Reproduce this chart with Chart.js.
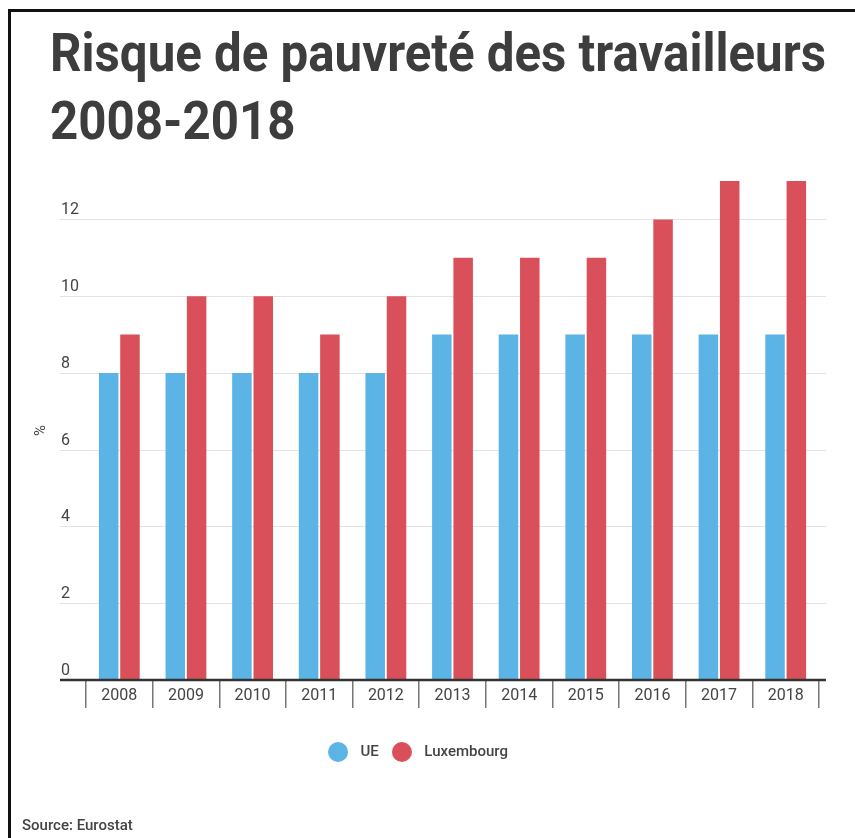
<!DOCTYPE html>
<html><head><meta charset="utf-8">
<script src="https://cdn.jsdelivr.net/npm/chart.js@4"></script>
<style>
html,body{margin:0;padding:0;background:#fff;width:855px;height:838px;overflow:hidden;font-family:Roboto,sans-serif;}
#frame{position:absolute;left:8px;top:9px;width:860px;height:840px;border-top:3px solid #111;border-left:3px solid #111;}
#title{position:absolute;left:50px;top:19px;font:700 54px/68px Roboto;color:#3d3d3d;white-space:nowrap;transform-origin:0 0;}
#source{position:absolute;left:22px;top:816px;font:500 15px/18px Roboto;color:#444;}
#c{position:absolute;left:0;top:0;}
</style></head><body>
<div id="frame"></div>
<canvas id="c" width="855" height="838"></canvas>
<div id="title"><span id="t1">Risque de pauvreté des travailleurs</span><br><span id="t2">2008-2018</span></div>
<div id="source">Source: Eurostat</div>
<script>
const years = ['2008','2009','2010','2011','2012','2013','2014','2015','2016','2017','2018'];
const ueValues = [8,8,8,8,8,9,9,9,9,9,9];
const luxValues = [9,10,10,9,10,11,11,11,12,13,13];
const seriesNames = ['UE','Luxembourg'];
const seriesColors = ['#5bb4e5','#d9505a'];
const yTicks = [0,2,4,6,8,10,12];
const yAxisTitle = '%';

// fit title width
const t1 = document.getElementById('t1');
const sc = 776 / t1.getBoundingClientRect().width;
document.getElementById('title').style.transform = 'scaleX(' + sc + ')';

Chart.defaults.font.family = 'Roboto';
Chart.defaults.color = '#444';

function makeDot(color) {
  const c = document.createElement('canvas');
  c.width = 20; c.height = 20;
  const g = c.getContext('2d');
  g.fillStyle = color;
  g.beginPath(); g.arc(10, 10, 10, 0, Math.PI * 2); g.fill();
  return c;
}
const dots = seriesColors.map(makeDot);

const axesPlugin = {
  id: 'axesPlugin',
  afterLayout(chart) {
    if (chart.legend) { chart.legend.left -= 10; chart.legend.right -= 10; }
  },
  beforeDatasetsDraw(chart) {
    const {ctx} = chart;
    const y = chart.scales.y;
    ctx.save();
    ctx.font = '16px Roboto';
    ctx.fillStyle = '#444';
    ctx.textAlign = 'left';
    ctx.textBaseline = 'alphabetic';
    y.ticks.forEach(t => {
      const py = Math.round(y.getPixelForValue(t.value)) + 0.5;
      if (t.value > 0) {
        ctx.strokeStyle = '#e3e3e3';
        ctx.lineWidth = 1;
        ctx.beginPath(); ctx.moveTo(60, py); ctx.lineTo(826, py); ctx.stroke();
      }
      ctx.fillText(String(t.value), 61, py - 6);
    });
    ctx.restore();
  },
  afterDatasetsDraw(chart) {
    const {ctx} = chart;
    const y = chart.scales.y;
    const py = y.getPixelForValue(0);
    ctx.save();
    ctx.strokeStyle = '#333';
    ctx.lineWidth = 2.5;
    ctx.beginPath(); ctx.moveTo(60, py); ctx.lineTo(826, py); ctx.stroke();
    ctx.restore();
  }
};

new Chart(document.getElementById('c'), {
  type: 'bar',
  data: {
    labels: years,
    datasets: [
      {label: seriesNames[0], data: ueValues, backgroundColor: seriesColors[0], borderWidth: 0},
      {label: seriesNames[1], data: luxValues, backgroundColor: seriesColors[1], borderWidth: 0}
    ]
  },
  options: {
    responsive: false,
    animation: false,
    events: [],
    categoryPercentage: 0.64,
    barPercentage: 0.915,
    layout: {padding: {left: 32, right: 36, top: 181, bottom: 68.5}},
    plugins: {
      tooltip: {enabled: false},
      title: {display: false},
      legend: {
        position: 'bottom',
        labels: {
          usePointStyle: true,
          pointStyleWidth: 30,
          boxHeight: 14.2,
          font: {size: 15, weight: '500'},
          color: '#444',
          padding: 8,
          generateLabels: (chart) => {
            const items = Chart.defaults.plugins.legend.labels.generateLabels(chart);
            items.forEach((it, i) => { it.pointStyle = dots[i]; });
            return items;
          }
        }
      }
    },
    scales: {
      x: {
        offset: true,
        border: {display: false},
        grid: {offset: true, drawOnChartArea: false, drawTicks: true, tickLength: 28, color: '#777', lineWidth: 1.5},
        ticks: {font: {size: 16}, color: '#444', padding: -22, maxRotation: 0, autoSkip: false},
        afterFit: (s) => { s.height = 56.5; }
      },
      y: {
        min: 0, max: 13,
        afterBuildTicks: (s) => { s.ticks = yTicks.map(v => ({value: v})); },
        border: {display: false},
        grid: {display: false, drawTicks: false},
        ticks: {display: false},
        title: {display: true, text: yAxisTitle, font: {size: 15}, color: '#444', padding: {top: 0, bottom: 36}}
      }
    }
  },
  plugins: [axesPlugin]
});
</script>
</body></html>
